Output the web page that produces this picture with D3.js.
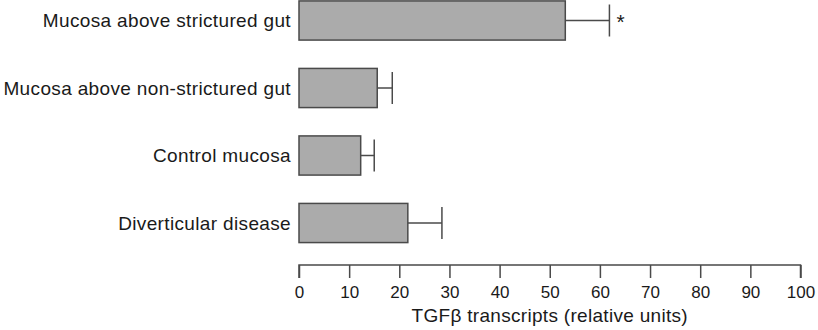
<!DOCTYPE html>
<html>
<head>
<meta charset="utf-8">
<script src="https://cdn.jsdelivr.net/npm/d3@7"></script>
<style>
  html, body { margin: 0; padding: 0; background: #fff; }
  svg text { font-family: "Liberation Sans", Arial, sans-serif; fill: #1a1a1a; }
</style>
</head>
<body>
<svg id="chart" width="818" height="330"></svg>
<script>
// Groups, top to bottom
const groups = [
  "Mucosa above strictured gut",
  "Mucosa above non-strictured gut",
  "Control mucosa",
  "Diverticular disease"
];
// Mean TGFβ transcripts (relative units)
const means = [53.1, 15.6, 12.3, 21.7];
// Upper end of the error bar (mean + SEM)
const upper = [61.9, 18.6, 15.0, 28.5];
// Significance markers
const marks = ["*", "", "", ""];
// Axis ticks
const ticks = [0, 10, 20, 30, 40, 50, 60, 70, 80, 90, 100];
const axisTitle = "TGFβ transcripts (relative units)";

const svg = d3.select("#chart");
const left = 299, right = 800.5, axisY = 265;

const x = d3.scaleLinear().domain([0, 100]).range([left, right]);
const y = d3.scaleBand().domain(groups).range([-13.25, 256.75])
  .paddingInner(0.42).paddingOuter(0.21);

const rows = svg.append("g").selectAll("g").data(groups).join("g");

// bars
rows.append("rect")
  .attr("x", x(0))
  .attr("y", d => y(d))
  .attr("width", (d, i) => x(means[i]) - x(0))
  .attr("height", y.bandwidth())
  .attr("fill", "#ababab")
  .attr("stroke", "#4a4a4a")
  .attr("stroke-width", 1.5);

// error whiskers
rows.append("line")
  .attr("x1", (d, i) => x(means[i]))
  .attr("x2", (d, i) => x(upper[i]))
  .attr("y1", d => y(d) + y.bandwidth() / 2)
  .attr("y2", d => y(d) + y.bandwidth() / 2)
  .attr("stroke", "#4a4a4a").attr("stroke-width", 1.5);
rows.append("line")
  .attr("x1", (d, i) => x(upper[i]))
  .attr("x2", (d, i) => x(upper[i]))
  .attr("y1", d => y(d) + y.bandwidth() / 2 - 16)
  .attr("y2", d => y(d) + y.bandwidth() / 2 + 16)
  .attr("stroke", "#4a4a4a").attr("stroke-width", 1.5);

// significance star
rows.append("text")
  .attr("x", (d, i) => x(upper[i]) + 7)
  .attr("y", d => y(d) + y.bandwidth() / 2 + 8.5)
  .attr("font-size", 21)
  .text((d, i) => marks[i]);

// category labels
rows.append("text")
  .attr("x", 291)
  .attr("y", d => y(d) + y.bandwidth() / 2)
  .attr("dy", "0.35em")
  .attr("text-anchor", "end")
  .attr("font-size", 19)
  .attr("letter-spacing", 0.35)
  .text(d => d);

// x axis
const axis = d3.axisBottom(x).tickValues(ticks).tickSize(13).tickPadding(8).tickSizeOuter(13);
const ax = svg.append("g").attr("transform", `translate(0,${axisY})`).call(axis);
ax.select(".domain").attr("stroke", "#4a4a4a").attr("stroke-width", 1.5)
  .attr("d", `M${x(0)},13V0H${x(100)}V13`);
ax.selectAll(".tick line").attr("stroke", "#4a4a4a").attr("stroke-width", 1.5);
ax.selectAll(".tick text").attr("font-size", 17).attr("fill", "#1a1a1a")
  .style("font-family", "'Liberation Sans', Arial, sans-serif");

svg.append("text")
  .attr("x", (x(0) + x(100)) / 2)
  .attr("y", 322)
  .attr("text-anchor", "middle")
  .attr("font-size", 19)
  .attr("letter-spacing", 0.3)
  .text(axisTitle);
</script>
</body>
</html>
